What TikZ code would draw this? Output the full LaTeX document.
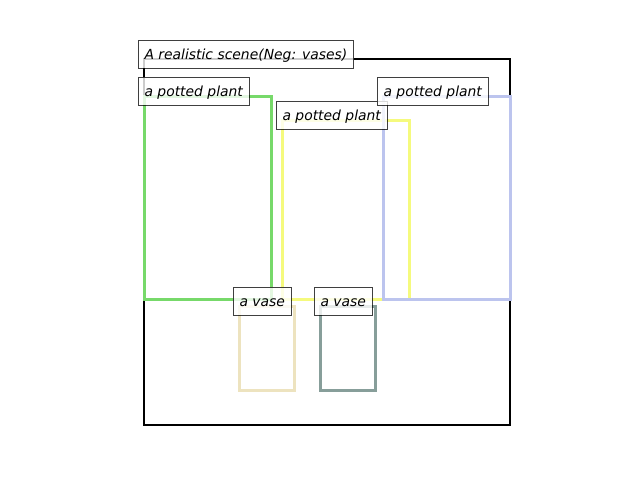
\documentclass[tikz,border=0pt]{standalone}
\usepackage{fontspec}
\setmainfont{DejaVu Sans}
\begin{document}
\begin{tikzpicture}[x=1pt,y=-1pt,
  boxline/.style={line width=3pt},
  lbl/.style={anchor=base west, xshift=-6.5pt, draw=black, draw opacity=0.75, fill=white, fill opacity=0.8, text opacity=1,
    line width=1pt, inner xsep=6.5pt, inner ysep=4pt, text height=15pt, text depth=5pt,
    font=\fontsize{13.9}{16}\selectfont\itshape}]
\useasboundingbox (0,0) rectangle (640,480);
\definecolor{cgreen}{HTML}{77D96A}
\definecolor{cyellow}{HTML}{F5FA7D}
\definecolor{cblue}{HTML}{BCC4EE}
\definecolor{cbeige}{HTML}{EDE3BF}
\definecolor{cgray}{HTML}{879E9A}
% scene frame
\draw[line width=2.6pt, black] (144,59) rectangle (510,425);
% potted plants
\draw[boxline, cgreen] (144,96) rectangle (271,299);
\draw[boxline, cyellow] (282,120) rectangle (409,299);
\draw[boxline, cblue] (383,96) rectangle (510,299);
% vases
\draw[boxline, cbeige] (239,306) rectangle (294,390);
\draw[boxline, cgray] (320,306) rectangle (375,390);
% labels
\node[lbl] (title) at (144,59) {A realistic scene(Neg: vases)};
\node[lbl] (p1) at (144,96) {a potted plant};
\node[lbl] (p2) at (282,120) {a potted plant};
\node[lbl] (p3) at (383,96) {a potted plant};
\node[lbl] (v1) at (239,306) {a vase};
\node[lbl] (v2) at (320,306) {a vase};
\end{tikzpicture}
\end{document}
